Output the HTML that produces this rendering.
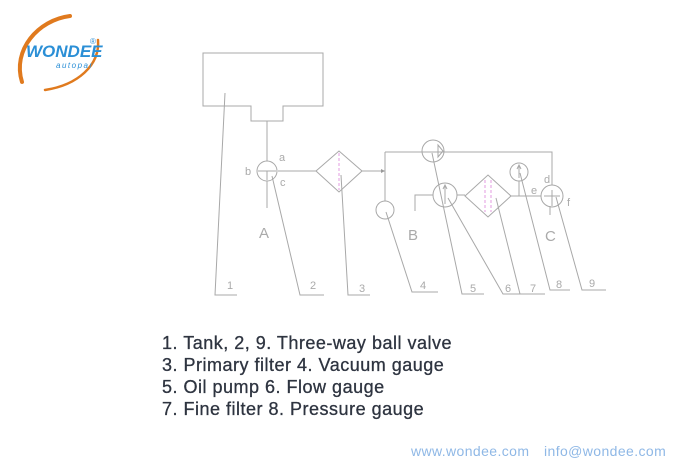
<!DOCTYPE html>
<html><head><style>
body{margin:0;background:#fff;width:700px;height:472px;overflow:hidden;position:relative;font-family:"Liberation Sans",sans-serif}
.list{position:absolute;left:162px;top:332px;font-size:18px;letter-spacing:0.5px;line-height:22px;color:#2e3440;-webkit-text-stroke:0.3px #2e3440}
.foot{position:absolute;left:411px;top:443px;font-size:14px;color:#8fb8e6;letter-spacing:0.4px;word-spacing:3px}
</style></head><body>
<svg width="700" height="472" style="position:absolute;left:0;top:0">
<g fill="none" stroke="#e07a1e" stroke-width="4" stroke-linecap="round">
<path d="M22,82 C12,50 38,20 70,16"/>
<path d="M98,40 C100,65 78,85 45,90" stroke-width="2.5"/>
</g>
<text x="26" y="57" font-size="17" font-style="italic" font-weight="bold" fill="#2b8fd6" font-family="Liberation Sans">WONDEE</text>
<text x="56" y="68" font-size="8" font-style="italic" fill="#2b8fd6" letter-spacing="1.5">autopar</text>
<text x="90" y="44" font-size="8" fill="#2b8fd6">®</text>
<g fill="none" stroke="#a8a8a8" stroke-width="1">
<path d="M203,53H323V106H283V121H251V106H203Z"/>
<path d="M267,121V161M267,181V208M278,171H316"/>
<circle cx="267" cy="171" r="10"/>
<path d="M258,171H276M267,171V180"/>
<path d="M316,171L339,151L362,171L339,192Z"/>
<path d="M362,171H385"/>
<path d="M385,152V201M385,152H552V185"/>
<circle cx="385" cy="210" r="9"/>
<circle cx="433" cy="151" r="11"/>
<path d="M438,145L443,151L438,157Z"/>
<path d="M415,211V195H433M457,195H465"/>
<circle cx="445" cy="195" r="12"/>
<path d="M445,186V204M443,189L445,185L447,189"/>
<path d="M465,196L488,175L511,196L488,217Z"/>
<path d="M511,196H541M519,181V196"/>
<circle cx="519" cy="172" r="9"/>
<path d="M519,166V178M517,169L519,165L521,169"/>
<circle cx="552" cy="196" r="11"/>
<path d="M544,196H560M552,190V206M550,206V215"/>
<path d="M225,93L215,295H237M272,176L300,295H324M341,175L348,295H370M386,212L412,292H438M432,153L462,294H484M448,198L503,294H521M496,198L520,294H545M520,173L550,290H570M556,197L582,290H606"/>
</g>
<path d="M381,169L385,171L381,173Z" fill="#999"/>
<g stroke="#e39be0" stroke-width="1" stroke-dasharray="3,2" fill="none">
<path d="M339,153V190M485,180V212M491,180V212"/>
</g>
<g font-family="Liberation Sans" fill="#aaa" font-size="11">
<text x="279" y="161">a</text><text x="245" y="175">b</text><text x="280" y="186">c</text>
<text x="259" y="238" font-size="15">A</text><text x="408" y="240" font-size="15">B</text><text x="545" y="241" font-size="15">C</text>
<text x="544" y="183">d</text><text x="531" y="194">e</text><text x="567" y="206">f</text>
<text x="227" y="289">1</text><text x="310" y="289">2</text><text x="359" y="292">3</text><text x="420" y="289">4</text><text x="470" y="292">5</text><text x="505" y="292">6</text><text x="530" y="292">7</text><text x="556" y="288">8</text><text x="589" y="287">9</text>
</g>
</svg>
<div class="list">1. Tank, 2, 9. Three-way ball valve<br>3. Primary filter 4. Vacuum gauge<br>5. Oil pump 6. Flow gauge<br>7. Fine filter 8. Pressure gauge</div>
<div class="foot">www.wondee.com &nbsp;info@wondee.com</div>
</body></html>
